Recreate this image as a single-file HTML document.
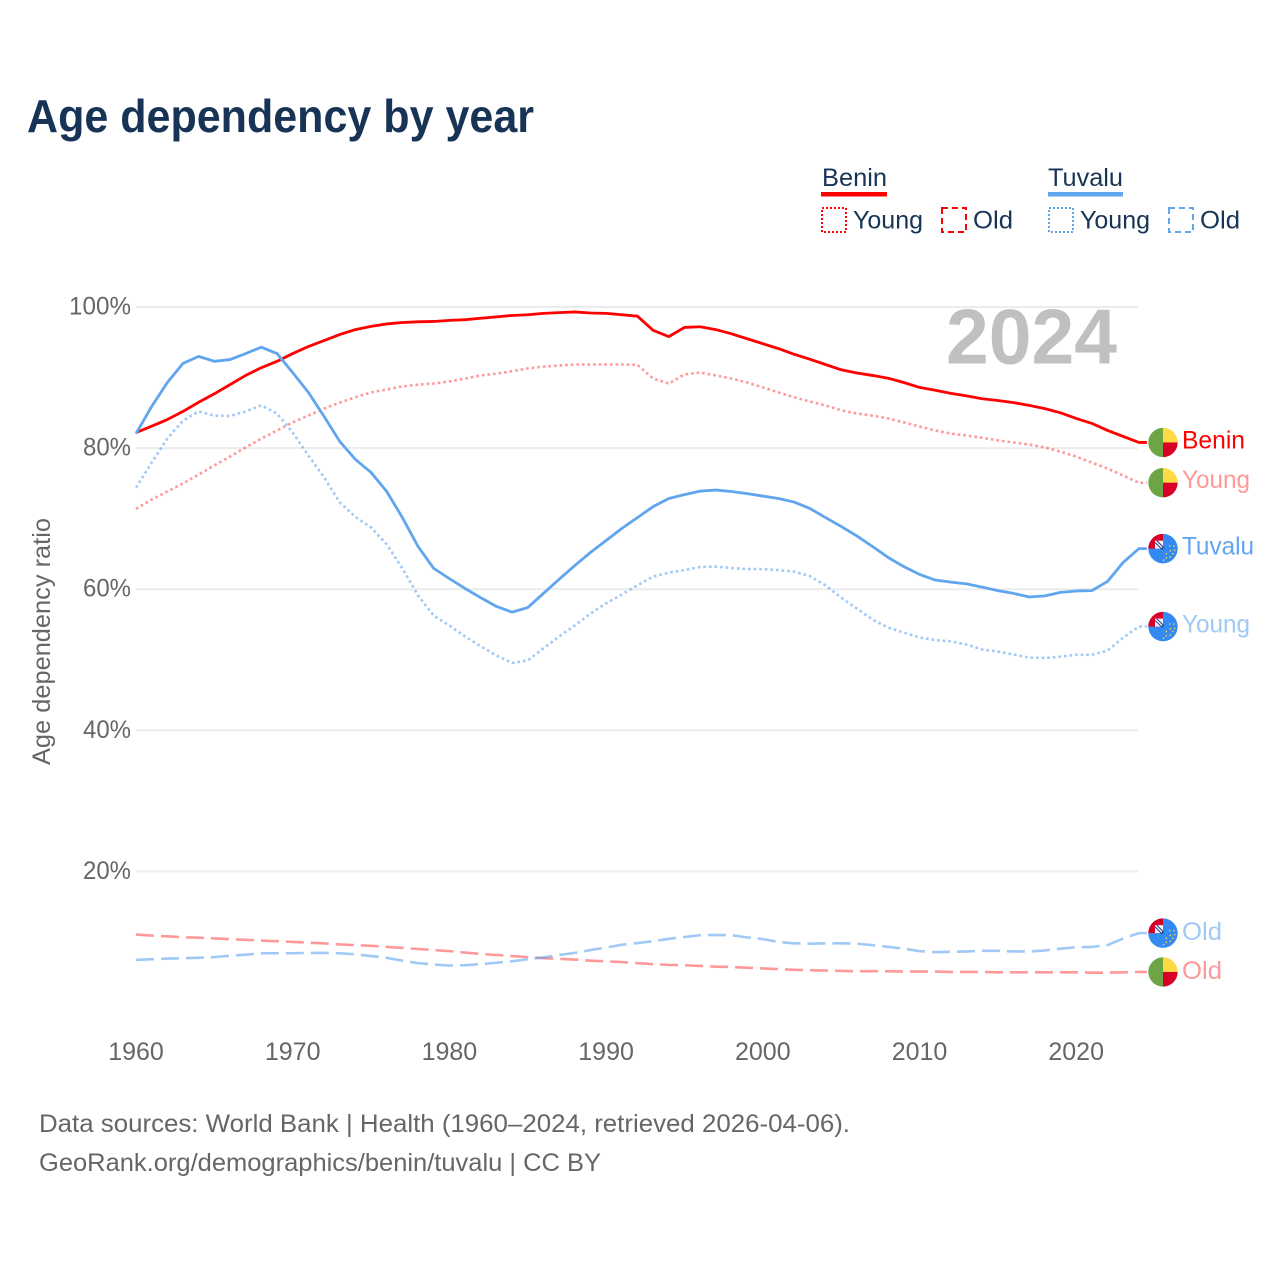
<!DOCTYPE html>
<html lang="en">
<head>
<meta charset="utf-8">
<title>Age dependency by year</title>
<style>
html,body{margin:0;padding:0;background:#fff;}
svg{display:block;font-family:"Liberation Sans",sans-serif;}
</style>
</head>
<body>
<svg id="chart" xmlns="http://www.w3.org/2000/svg" width="1280" height="1280" viewBox="0 0 1280 1280">
  <defs>
    <clipPath id="flag-clip"><circle cx="0" cy="0" r="14.7"/></clipPath>
    <g id="flag-benin">
      <g clip-path="url(#flag-clip)">
        <rect x="-15" y="-15" width="15" height="30" fill="#6DA544"/>
        <rect x="0" y="-15" width="15" height="15" fill="#FFDA44"/>
        <rect x="0" y="0" width="15" height="15" fill="#D80027"/>
      </g>
    </g>
    <g id="flag-tuvalu">
      <circle cx="0" cy="0" r="14.7" fill="#338AF3"/>
      <path d="M0 0 L-14.7 0 A14.7 14.7 0 0 1 0 -14.7 Z" fill="#D80027"/>
      <rect x="-8" y="-8" width="8" height="8" fill="#f4f4f4"/>
      <path d="M-7 -7 L0 0" stroke="#1f3f8a" stroke-width="3.4"/>
      <path d="M-7 -7 L-1 -1" stroke="#f4f4f4" stroke-width="1.4"/>
      <g fill="#FFDA44">
        <circle cx="6.7" cy="-2.6" r="0.8"/><circle cx="11" cy="-2.6" r="0.8"/>
        <circle cx="11.6" cy="1.7" r="0.8"/><circle cx="7.3" cy="2.3" r="0.8"/>
        <circle cx="3.3" cy="5" r="0.8"/><circle cx="9.8" cy="5" r="0.8"/>
        <circle cx="3.3" cy="9.3" r="0.8"/><circle cx="7.3" cy="8.3" r="0.8"/>
        <circle cx="0.5" cy="11.5" r="0.8"/>
      </g>
    </g>
  </defs>

  <text x="27" y="132" font-size="46" font-weight="700" fill="#173355" textLength="507" lengthAdjust="spacingAndGlyphs">Age dependency by year</text>

  <g font-size="25" fill="#173355">
    <text x="822" y="186" textLength="65" lengthAdjust="spacingAndGlyphs">Benin</text>
    <rect x="821" y="192" width="66" height="4.5" fill="#ff0000"/>
    <rect x="822" y="208" width="24" height="24" fill="none" stroke="#ff0000" stroke-width="2" stroke-dasharray="2 2"/>
    <text x="853" y="228.5" textLength="70" lengthAdjust="spacingAndGlyphs">Young</text>
    <rect x="942" y="208" width="24" height="24" fill="none" stroke="#ff0000" stroke-width="2" stroke-dasharray="6 4"/>
    <text x="973" y="228.5" textLength="40" lengthAdjust="spacingAndGlyphs">Old</text>

    <text x="1048" y="186" textLength="75" lengthAdjust="spacingAndGlyphs">Tuvalu</text>
    <rect x="1048" y="192" width="75" height="4.5" fill="#60a5ee"/>
    <rect x="1049" y="208" width="24" height="24" fill="none" stroke="#60a5ee" stroke-width="2" stroke-dasharray="2 2"/>
    <text x="1080" y="228.5" textLength="70" lengthAdjust="spacingAndGlyphs">Young</text>
    <rect x="1169" y="208" width="24" height="24" fill="none" stroke="#60a5ee" stroke-width="2" stroke-dasharray="6 4"/>
    <text x="1200" y="228.5" textLength="40" lengthAdjust="spacingAndGlyphs">Old</text>
  </g>

  <g id="grid"></g>
  <g id="y-ticks" font-size="25" fill="#666666"></g>
  <g id="x-ticks" font-size="25" fill="#666666"></g>

  <text transform="translate(50 641.5) rotate(-90)" text-anchor="middle" font-size="25" fill="#666666" textLength="247" lengthAdjust="spacingAndGlyphs">Age dependency ratio</text>

  <text x="946" y="363.5" font-size="78" font-weight="700" fill="#c0c0c0" textLength="171" lengthAdjust="spacingAndGlyphs">2024</text>

  <g id="series" fill="none"></g>
  <g id="end-labels" font-size="25"></g>

  <text x="39" y="1132" font-size="25" fill="#666666" textLength="811" lengthAdjust="spacingAndGlyphs">Data sources: World Bank | Health (1960–2024, retrieved 2026-04-06).</text>
  <text x="39" y="1171" font-size="25" fill="#666666" textLength="562" lengthAdjust="spacingAndGlyphs">GeoRank.org/demographics/benin/tuvalu | CC BY</text>
</svg>

<script>
const startYear = 1960;
const yTickValues = [20, 40, 60, 80, 100];
const yTickLabels = ["20%", "40%", "60%", "80%", "100%"];
const xTickValues = [1960, 1970, 1980, 1990, 2000, 2010, 2020];

const beninTotal = [
  82.2,83.1,84.05,85.2,86.5,87.7,89.0,90.3,91.4,92.3,
  93.4,94.4,95.25,96.1,96.8,97.25,97.6,97.8,97.9,97.95,
  98.1,98.2,98.4,98.6,98.8,98.9,99.1,99.2,99.3,99.15,
  99.1,98.9,98.7,96.7,95.8,97.1,97.2,96.8,96.2,95.5,
  94.8,94.1,93.3,92.6,91.85,91.1,90.65,90.3,89.9,89.3,
  88.6,88.2,87.75,87.4,87.0,86.75,86.45,86.05,85.6,85.0,
  84.2,83.5,82.5,81.65,80.8
];
const beninYoung = [
  71.4,72.7,73.85,75.0,76.25,77.55,78.8,80.1,81.35,82.5,
  83.65,84.6,85.6,86.45,87.2,87.9,88.3,88.75,89.0,89.15,
  89.45,89.85,90.3,90.55,90.9,91.3,91.55,91.7,91.85,91.85,
  91.85,91.85,91.8,89.85,89.15,90.45,90.7,90.3,89.85,89.3,
  88.6,87.9,87.2,86.6,86.05,85.35,84.9,84.6,84.2,83.65,
  83.05,82.5,82.05,81.8,81.45,81.1,80.8,80.5,80.1,79.5,
  78.8,77.95,77.1,76.1,75.1
];
const beninOld = [
  11.05,10.9,10.8,10.65,10.6,10.5,10.4,10.3,10.2,10.1,
  10.0,9.9,9.8,9.65,9.55,9.45,9.3,9.15,9.0,8.85,
  8.7,8.5,8.3,8.15,8.0,7.85,7.7,7.6,7.5,7.35,
  7.25,7.15,7.0,6.85,6.75,6.7,6.6,6.5,6.45,6.35,
  6.25,6.15,6.05,6.0,5.95,5.9,5.85,5.85,5.85,5.8,
  5.8,5.8,5.75,5.75,5.75,5.7,5.7,5.7,5.7,5.7,
  5.7,5.65,5.65,5.7,5.75
];
const tuvaluTotal = [
  82.05,85.9,89.3,92.0,93.0,92.3,92.55,93.4,94.3,93.4,
  90.7,87.9,84.5,80.95,78.4,76.55,73.85,70.15,66.05,62.95,
  61.5,60.1,58.8,57.55,56.75,57.4,59.4,61.4,63.35,65.2,
  66.9,68.6,70.15,71.7,72.85,73.4,73.9,74.05,73.85,73.55,
  73.2,72.85,72.35,71.45,70.15,68.9,67.55,66.05,64.5,63.2,
  62.1,61.3,61.0,60.75,60.3,59.8,59.4,58.9,59.05,59.55,
  59.75,59.8,61.1,63.8,65.75
];
const tuvaluYoung = [
  74.4,77.95,81.35,83.9,85.2,84.6,84.55,85.2,86.05,84.9,
  82.2,78.95,75.85,72.3,70.25,68.75,66.35,62.95,59.1,56.25,
  54.85,53.3,51.9,50.6,49.55,49.9,51.6,53.3,54.85,56.55,
  58.0,59.25,60.55,61.8,62.35,62.7,63.15,63.2,63.0,62.85,
  62.85,62.7,62.5,61.85,60.55,58.8,57.25,55.7,54.55,53.85,
  53.15,52.8,52.6,52.15,51.45,51.15,50.75,50.3,50.25,50.45,
  50.7,50.7,51.3,53.15,54.7
];
const tuvaluOld = [
  7.45,7.55,7.65,7.7,7.75,7.85,8.05,8.2,8.4,8.4,
  8.4,8.45,8.45,8.4,8.25,8.0,7.75,7.35,7.0,6.8,
  6.65,6.7,6.85,7.05,7.25,7.55,7.8,8.15,8.45,8.85,
  9.2,9.6,9.85,10.1,10.45,10.7,10.95,11.0,10.95,10.65,
  10.4,10.0,9.8,9.75,9.8,9.8,9.75,9.55,9.3,9.05,
  8.7,8.55,8.6,8.65,8.75,8.75,8.65,8.65,8.8,9.05,
  9.25,9.3,9.55,10.5,11.25
];

const SVG_NS = "http://www.w3.org/2000/svg";
const PLOT_LEFT = 136, PLOT_RIGHT = 1138, YEAR_WIDTH = 15.67;
const ZERO_Y = 1012.5, UNIT_Y = 7.055;
function xScale(year) { return PLOT_LEFT + (year - startYear) * YEAR_WIDTH; }
function yScale(value) { return ZERO_Y - value * UNIT_Y; }
function make(tag) { return document.createElementNS(SVG_NS, tag); }

const gridGroup = document.getElementById("grid");
const yTickGroup = document.getElementById("y-ticks");
yTickValues.forEach(function (value, i) {
  const line = make("line");
  
  
  line.setAttribute("x1", PLOT_LEFT);
  line.setAttribute("x2", PLOT_RIGHT);
  line.setAttribute("y1", yScale(value));
  line.setAttribute("y2", yScale(value));
  line.setAttribute("stroke", "#ececec");
  line.setAttribute("stroke-width", "2");
  gridGroup.appendChild(line);

  const label = make("text");
  
  
  label.setAttribute("x", 131);
  label.setAttribute("y", yScale(value) + 7.5);
  label.setAttribute("text-anchor", "end");
  label.setAttribute("textLength", yTickLabels[i].length === 4 ? 62 : 48);
  label.setAttribute("lengthAdjust", "spacingAndGlyphs");
  label.textContent = yTickLabels[i];
  yTickGroup.appendChild(label);
});

const xTickGroup = document.getElementById("x-ticks");
xTickValues.forEach(function (year) {
  const label = make("text");
  
  
  label.setAttribute("x", xScale(year));
  label.setAttribute("y", 1060);
  label.setAttribute("text-anchor", "middle");
  label.textContent = String(year);
  xTickGroup.appendChild(label);
});

function drawLine(values, name, color, opacity, width, dash) {
  const path = make("path");
  
  
  let d = "";
  values.forEach(function (value, i) {
    d += (i ? "L" : "M") + xScale(startYear + i).toFixed(2) + " " + yScale(value).toFixed(2);
  });
  const lastY = yScale(values[values.length - 1]).toFixed(2);
  d += "L" + (xScale(startYear + values.length - 1) + 8).toFixed(2) + " " + lastY;
  path.setAttribute("d", d);
  path.setAttribute("stroke", color);
  path.setAttribute("stroke-opacity", opacity);
  path.setAttribute("stroke-width", width);
  path.setAttribute("stroke-linejoin", "round");
  if (dash) path.setAttribute("stroke-dasharray", dash);
  document.getElementById("series").appendChild(path);
}

const RED = "#ff0000", BLUE = "#60a5ee";
drawLine(beninOld, "line-benin-old", RED, 0.4, 2.6, "18 7");
drawLine(tuvaluOld, "line-tuvalu-old", BLUE, 0.6, 2.6, "18 7");
drawLine(beninYoung, "line-benin-young", RED, 0.4, 2.6, "2.6 3");
drawLine(tuvaluYoung, "line-tuvalu-young", BLUE, 0.6, 2.6, "2.6 3");
drawLine(beninTotal, "line-benin-total", RED, 1, 2.8, "");
drawLine(tuvaluTotal, "line-tuvalu-total", BLUE, 1, 2.8, "");

function drawEndLabel(values, flagId, text, color, labelWidth, baselineOffset, flagName, labelName) {
  const y = yScale(values[values.length - 1]);
  const group = document.getElementById("end-labels");
  const flag = make("use");
  
  
  flag.setAttribute("href", "#" + flagId);
  flag.setAttribute("transform", "translate(1163 " + y.toFixed(2) + ")");
  group.appendChild(flag);
  const label = make("text");
  
  
  label.setAttribute("x", 1182);
  label.setAttribute("y", (y + baselineOffset).toFixed(2));
  label.setAttribute("fill", color);
  label.setAttribute("textLength", labelWidth);
  label.setAttribute("lengthAdjust", "spacingAndGlyphs");
  label.textContent = text;
  group.appendChild(label);
}

drawEndLabel(beninTotal, "flag-benin", "Benin", "#ff0000", 63, 6, "flag-benin-total", "label-benin-total");
drawEndLabel(beninYoung, "flag-benin", "Young", "#ff9999", 68, 5.5, "flag-benin-young", "label-benin-young");
drawEndLabel(tuvaluTotal, "flag-tuvalu", "Tuvalu", "#60a5ee", 72, 6, "flag-tuvalu-total", "label-tuvalu-total");
drawEndLabel(tuvaluYoung, "flag-tuvalu", "Young", "#a0c9f5", 68, 6, "flag-tuvalu-young", "label-tuvalu-young");
drawEndLabel(tuvaluOld, "flag-tuvalu", "Old", "#a0c9f5", 40, 7, "flag-tuvalu-old", "label-tuvalu-old");
drawEndLabel(beninOld, "flag-benin", "Old", "#ff9999", 40, 7, "flag-benin-old", "label-benin-old");
</script>
</body>
</html>
